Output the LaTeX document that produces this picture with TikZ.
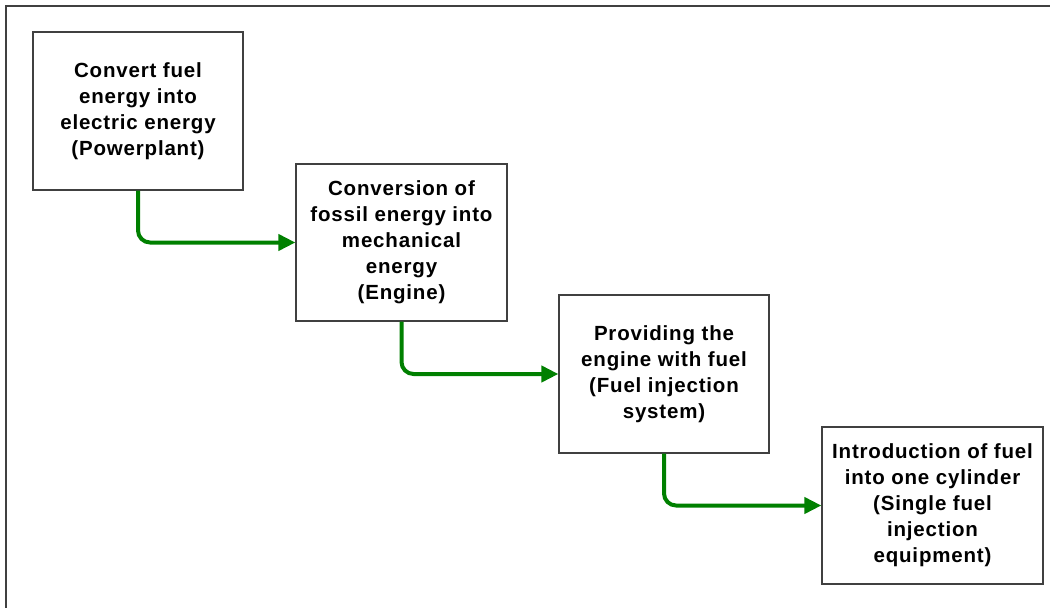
\documentclass[tikz,border=0pt]{standalone}
\usepackage{fontspec}
\usetikzlibrary{arrows.meta}
\newfontfamily\boxfont{Liberation Sans}[LetterSpace=4]
\definecolor{flowgreen}{RGB}{0,128,0}
\definecolor{edgegray}{RGB}{64,64,64}
\begin{document}
\begin{tikzpicture}[x=1pt,y=-1pt,
  stepbox/.style={draw=edgegray,line width=1.2pt,rectangle,align=center,
    inner sep=0pt,font=\boxfont\bfseries\fontsize{20.5}{26}\selectfont},
  flow/.style={draw=flowgreen,line width=4pt,rounded corners=12pt,
    -{Triangle[length=17pt,width=16pt]}}]
\useasboundingbox (0,0) rectangle (1050,608);
% outer frame, running past the right and bottom edges
\begin{scope}
  \clip (0,0) rectangle (1050,608);
  \draw[line width=2pt,draw=edgegray] (6,6) rectangle (1056,614);
\end{scope}
% process steps
\node[stepbox,minimum width=210pt,minimum height=158pt] (b1) at (138,111)
  {Convert fuel\\energy into\\electric energy\\(Powerplant)};
\node[stepbox,minimum width=211pt,minimum height=157pt] (b2) at (401.5,242.5)
  {Conversion of\\fossil energy into\\mechanical\\energy\\(Engine)};
\node[stepbox,minimum width=210pt,minimum height=158pt] (b3) at (664,374)
  {Providing the\\engine with fuel\\(Fuel injection\\system)};
\node[stepbox,minimum width=221pt,minimum height=157pt] (b4) at (932.5,505.5)
  {Introduction of fuel\\into one cylinder\\(Single fuel\\injection\\equipment)};
% connectors
\draw[flow] (b1.south) |- (b2.west);
\draw[flow] (b2.south) |- (b3.west);
\draw[flow] (b3.south) |- (b4.west);
\end{tikzpicture}
\end{document}
